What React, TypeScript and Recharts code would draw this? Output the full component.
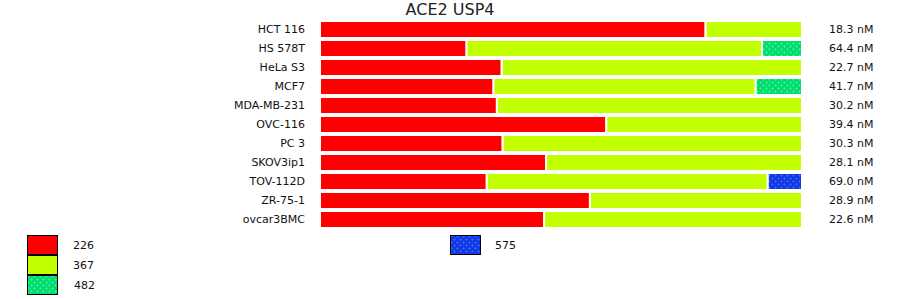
import { Bar, BarChart, XAxis, YAxis } from "recharts";

const cells = [
  "HCT 116",
  "HS 578T",
  "HeLa S3",
  "MCF7",
  "MDA-MB-231",
  "OVC-116",
  "PC 3",
  "SKOV3ip1",
  "TOV-112D",
  "ZR-75-1",
  "ovcar3BMC",
];
const ic50 = ["18.3", "64.4", "22.7", "41.7", "30.2", "39.4", "30.3", "28.1", "69.0", "28.9", "22.6"];

// share of each bar (percent)
const s226 = [80.0, 30.4, 37.7, 36.0, 36.7, 59.4, 37.9, 46.9, 34.6, 56.0, 46.5];
const s367 = [20.0, 61.3, 62.3, 54.4, 63.3, 40.6, 62.1, 53.1, 58.3, 44.0, 53.5];
const s482 = [0, 8.3, 0, 9.6, 0, 0, 0, 0, 0, 0, 0];
const s575 = [0, 0, 0, 0, 0, 0, 0, 0, 7.1, 0, 0];

const series = [
  { key: "226", values: s226, fill: "#FF0000" },
  { key: "367", values: s367, fill: "#C2FF00" },
  { key: "482", values: s482, fill: "url(#pat482)" },
  { key: "575", values: s575, fill: "url(#pat575)" },
];

const data = cells.map((c, i) => {
  const row: any = { cell: c, ic: ic50[i] };
  series.forEach((s) => (row[s.key] = s.values[i]));
  return row;
});

function Dots({ id, base, dot }: { id: string; base: string; dot: string }) {
  return (
    <pattern id={id} width="6" height="6" patternUnits="userSpaceOnUse">
      <rect width="6" height="6" fill={base} />
      <rect x="0" y="1" width="3" height="1" fill={dot} />
      <rect x="1" y="0" width="1" height="3" fill={dot} />
      <rect x="3" y="4" width="3" height="1" fill={dot} />
      <rect x="4" y="3" width="1" height="3" fill={dot} />
    </pattern>
  );
}

const font = "'DejaVu Sans', Verdana, sans-serif";

function Swatch({ fill, left, top }: { fill: string; left: number; top: number }) {
  return (
    <svg
      width={31}
      height={21}
      style={{ position: "absolute", left, top }}
    >
      <rect x={0.5} y={0.5} width={30} height={19} fill={fill} stroke="#000" />
    </svg>
  );
}

export default function App() {
  const legendPos = [
    { sw: [27, 235], tx: [73, 246] },
    { sw: [27, 255], tx: [73, 266] },
    { sw: [27, 275], tx: [74, 286] },
    { sw: [450, 235], tx: [495, 246] },
  ];
  return (
    <div
      style={{
        position: "absolute",
        left: 0,
        top: 0,
        width: 900,
        height: 299,
        fontFamily: font,
        background: "#fff",
      }}
    >
      <svg width={0} height={0} style={{ position: "absolute" }}>
        <defs>
          <Dots id="pat482" base="#00DA6E" dot="#2AF08C" />
          <Dots id="pat575" base="#1236E2" dot="#2C5CF6" />
        </defs>
      </svg>
      <div
        style={{
          position: "absolute",
          left: 0,
          width: 900,
          top: 0,
          textAlign: "center",
          fontSize: 16,
          color: "#222",
          lineHeight: "19px",
        }}
      >
        ACE2 USP4
      </div>
      <BarChart
        width={900}
        height={299}
        data={data}
        layout="vertical"
        margin={{ top: 20, right: 0, bottom: 70, left: 0 }}
      >
        <XAxis type="number" domain={[0, 100]} hide />
        <YAxis
          type="category"
          dataKey="cell"
          width={320}
          axisLine={false}
          tickLine={false}
          tickSize={0}
          tickMargin={15}
          interval={0}
          tick={{ fill: "#111", fontSize: 11, fontFamily: font }}
        />
        <YAxis
          yAxisId="right"
          orientation="right"
          type="category"
          dataKey="ic"
          width={98}
          axisLine={false}
          tickLine={false}
          tickSize={0}
          tickMargin={27}
          interval={0}
          tickFormatter={(v: string) => v + " nM"}
          tick={{ fill: "#111", fontSize: 11, fontFamily: font }}
        />
        {series.map((s) => (
          <Bar
            key={s.key}
            dataKey={s.key}
            stackId="a"
            fill={s.fill}
            stroke="#fff"
            strokeWidth={2}
            barSize={19}
            isAnimationActive={false}
          />
        ))}
      </BarChart>
      {series.map((s, i) => (
        <div key={s.key}>
          <Swatch fill={s.fill} left={legendPos[i].sw[0]} top={legendPos[i].sw[1]} />
          <div
            style={{
              position: "absolute",
              left: legendPos[i].tx[0],
              top: legendPos[i].tx[1] - 8,
              fontSize: 11,
              lineHeight: "16px",
              color: "#111",
            }}
          >
            {s.key}
          </div>
        </div>
      ))}
    </div>
  );
}
